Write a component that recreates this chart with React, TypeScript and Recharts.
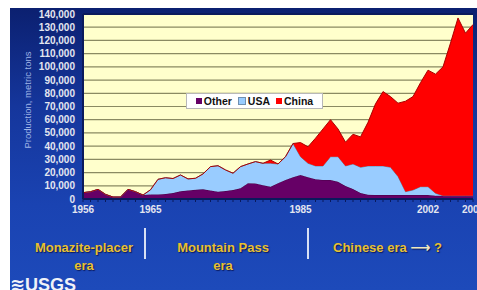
import React from 'react';
import { AreaChart, Area, XAxis, YAxis, CartesianGrid, ReferenceLine } from 'recharts';

const years = [
  1956, 1957, 1958, 1959, 1960, 1961, 1962, 1963, 1964, 1965,
  1966, 1967, 1968, 1969, 1970, 1971, 1972, 1973, 1974, 1975,
  1976, 1977, 1978, 1979, 1980, 1981, 1982, 1983, 1984, 1985,
  1986, 1987, 1988, 1989, 1990, 1991, 1992, 1993, 1994, 1995,
  1996, 1997, 1998, 1999, 2000, 2001, 2002, 2003, 2004, 2005,
  2006, 2007, 2008,
];

// metric tons, stacked bottom -> top
const other = [
  4800, 5500, 7300, 3500, 1500, 1500, 7300, 5500, 3000, 3500,
  3500, 3800, 4500, 5800, 6500, 7000, 7300, 6500, 5500, 6000,
  6800, 8100, 12000, 11800, 10500, 9300, 12000, 14400, 16500, 18200,
  16500, 15000, 14400, 14400, 13000, 9800, 7500, 4500, 3200, 3000,
  3000, 3000, 3000, 3000, 3000, 3000, 3000, 2500, 2500, 2500,
  2500, 2500, 2500,
];

const usa = [
  0, 0, 0, 0, 0, 0, 0, 0, 0, 3500,
  11400, 12300, 11000, 12400, 8700, 8700, 11700, 18000, 19700, 16000,
  12700, 16400, 14500, 16500, 16500, 17700, 14500, 17600, 25500, 13800,
  10500, 10000, 10600, 17600, 19000, 15200, 19000, 19500, 21800, 22000,
  22000, 21000, 14000, 2500, 3800, 6300, 6300, 1800, 0, 0,
  0, 0, 0,
];

const china = [
  0, 0, 0, 0, 0, 0, 0, 0, 0, 0,
  0, 0, 0, 0, 0, 0, 0, 0, 0, 0,
  0, 0, 0, 0, 0, 2500, 0, 0, 0, 10700,
  12500, 21000, 28000, 28000, 21000, 18000, 22500, 23000, 33000, 47000,
  56300, 53500, 55500, 68500, 70700, 78700, 88200, 90200, 97500, 115500,
  134500, 123000, 129500,
];

const labelYears = [1956, 1965, 1985, 2002, 2008];
const yTicks = [0, 10000, 20000, 30000, 40000, 50000, 60000, 70000, 80000, 90000, 100000, 110000, 120000, 130000, 140000];

const data = years.map((year, i) => ({ year, Other: other[i], USA: usa[i], China: china[i] }));

const font = '"Liberation Sans", Arial, sans-serif';
const gold = '#e8c030';

const eraStyle: React.CSSProperties = {
  position: 'absolute',
  color: gold,
  fontFamily: font,
  fontWeight: 'bold',
  fontSize: 13,
  lineHeight: '18px',
  textAlign: 'center',
  textShadow: '1px 1px 1px #0a1a60',
  whiteSpace: 'nowrap',
};

const divider: React.CSSProperties = {
  position: 'absolute',
  top: 220,
  width: 2,
  height: 31,
  background: '#d8e0f4',
};

function LegendBox() {
  const items = [
    { name: 'Other', color: '#660066' },
    { name: 'USA', color: '#99ccff' },
    { name: 'China', color: '#ff0000' },
  ];
  return (
    <div
      style={{
        position: 'absolute',
        left: 176,
        top: 85,
        width: 135,
        height: 14,
        background: '#ffffff',
        border: '1px solid #b8b8b8',
        display: 'flex',
        alignItems: 'center',
        justifyContent: 'center',
        gap: 6,
        fontFamily: font,
        fontWeight: 'bold',
        fontSize: 10.5,
        color: '#111',
      }}
    >
      {items.map((it) => (
        <span key={it.name} style={{ display: 'flex', alignItems: 'center' }}>
          <span
            style={{
              display: 'inline-block',
              width: 6,
              height: 6,
              background: it.color,
              border: it.name === 'USA' ? '1px solid #7090b0' : 'none',
              marginRight: 2,
            }}
          />
          {it.name}
        </span>
      ))}
    </div>
  );
}

export default function App() {
  return (
    <div style={{ position: 'absolute', left: 0, top: 0, width: 477, height: 290, background: '#fff', overflow: 'hidden' }}>
      <div
        style={{
          position: 'absolute',
          left: 10,
          top: 8,
          width: 467,
          height: 282,
          overflow: 'hidden',
          background: 'linear-gradient(180deg, #0b2070 0%, #15369c 35%, #1a43b2 70%, #1d4aba 100%)',
        }}
      >
        <AreaChart width={467} height={215} data={data} margin={{ top: 6, right: 4, left: 0, bottom: 0 }}>
          <CartesianGrid vertical={false} stroke="#8a8a62" strokeWidth={1.2} fill="#ffffcc" fillOpacity={1} />
          <XAxis
            dataKey="year"
            type="number"
            domain={[1956, 2008]}
            ticks={years}
            interval={0}
            tickFormatter={(v: number) => (labelYears.includes(v) ? String(v) : '')}
            height={24}
            tickSize={3}
            tickMargin={4}
            axisLine={{ stroke: '#0a1a5c', strokeWidth: 2 }}
            tickLine={{ stroke: '#0a1a5c' }}
            tick={{ fill: '#e4e6f0', fontSize: 10, fontWeight: 'bold', fontFamily: font }}
          />
          <YAxis
            domain={[0, 140000]}
            ticks={yTicks}
            interval={0}
            width={73}
            tickLine={false}
            tickSize={0}
            tickMargin={8}
            axisLine={{ stroke: '#0a1a5c', strokeWidth: 2 }}
            tickFormatter={(v: number) => v.toLocaleString('en-US')}
            tick={{ fill: '#e4e6f0', fontSize: 10, fontWeight: 'bold', fontFamily: font }}
          />
          <Area type="linear" dataKey="Other" stackId="1" stroke="#440044" strokeWidth={1} fill="#660066" fillOpacity={1} isAnimationActive={false} />
          <Area type="linear" dataKey="USA" stackId="1" stroke="#6688aa" strokeWidth={1} fill="#99ccff" fillOpacity={1} isAnimationActive={false} />
          <Area type="linear" dataKey="China" stackId="1" stroke="#aa0000" strokeWidth={1} fill="#ff0000" fillOpacity={1} isAnimationActive={false} />
          <ReferenceLine y={140000} stroke="#0a1a5c" strokeWidth={2} />
        </AreaChart>

        <LegendBox />

        <div
          style={{
            position: 'absolute',
            left: 17,
            top: 92,
            transform: 'translate(-50%, -50%) rotate(-90deg)',
            color: '#9fb3e6',
            fontFamily: font,
            fontSize: 9.5,
            whiteSpace: 'nowrap',
          }}
        >
          Production, metric tons
        </div>

        <div style={{ ...eraStyle, left: 14, top: 231, width: 120 }}>
          Monazite-placer<br />era
        </div>
        <div style={{ ...divider, left: 134 }} />
        <div style={{ ...eraStyle, left: 153, top: 231, width: 120 }}>
          Mountain Pass<br />era
        </div>
        <div style={{ ...divider, left: 297 }} />
        <div style={{ ...eraStyle, left: 323, top: 230, textAlign: 'left' }}>
          Chinese era <span style={{ color: '#f0e8c0', fontFamily: '"DejaVu Sans", sans-serif', fontSize: 14 }}>⟶</span>  ?
        </div>

        <div
          style={{
            position: 'absolute',
            left: 0,
            top: 267,
            color: '#f0f2f8',
            fontFamily: font,
            fontWeight: 'bold',
            fontSize: 18,
            lineHeight: '20px',
            whiteSpace: 'nowrap',
          }}
        >
          <span style={{ fontFamily: '"DejaVu Sans", sans-serif', fontSize: 18 }}>≋</span>USGS
        </div>
      </div>
    </div>
  );
}
